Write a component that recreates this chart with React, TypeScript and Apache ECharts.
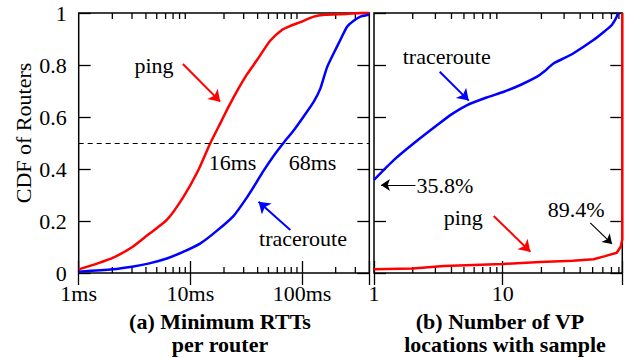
import React, { useEffect, useRef } from "react";
import * as echarts from "echarts";

// (a) Minimum RTT per router: [ms, CDF]
const rttPing: [number, number][] = [
  [1, 0.014], [1.5, 0.038], [2.04, 0.059], [3, 0.099], [4.2, 0.148], [6.15, 0.204],
  [8.67, 0.293], [11.8, 0.396], [15.1, 0.5], [19, 0.585], [22, 0.64], [27, 0.71],
  [32, 0.763], [39.5, 0.819], [52, 0.894], [66, 0.935], [80, 0.952], [96.6, 0.965],
  [127, 0.986], [160, 0.993], [252, 0.996], [330, 1.0], [400, 1.0],
];
const rttTrace: [number, number][] = [
  [1, 0.005], [2, 0.014], [3, 0.024], [4.2, 0.036], [6.15, 0.056], [8.5, 0.08],
  [12.3, 0.114], [17, 0.16], [24.4, 0.22], [32, 0.29], [39.5, 0.352], [45, 0.392],
  [56, 0.452], [68.4, 0.501], [84, 0.548], [103, 0.601], [127, 0.658], [146, 0.71], [167, 0.79],
  [192, 0.845], [220, 0.896], [253, 0.947], [290, 0.97], [333, 0.986], [383, 0.992], [400, 0.993],
];
// (b) Number of VP locations with sample: [count, CDF]
const vpTrace: [number, number][] = [
  [1, 0.358], [1.43, 0.435], [2.04, 0.499], [3.1, 0.569], [4, 0.61], [5.3, 0.646],
  [7.5, 0.675], [10.2, 0.697], [14, 0.725], [18.5, 0.755], [21, 0.775], [24.8, 0.806],
  [30, 0.826], [35.5, 0.845], [50.7, 0.896], [62, 0.93], [70.5, 0.954], [76, 0.98], [79, 1.0],
];
const vpPing: [number, number][] = [
  [1, 0.014], [2, 0.017], [3.5, 0.027], [10, 0.035], [19.5, 0.042], [35, 0.047],
  [50.7, 0.053], [62.5, 0.065], [77, 0.078], [82.6, 0.101], [85, 0.13], [85, 1.0],
];

const rttMinorTicks = [2, 3, 4, 5, 6, 7, 8, 9, 20, 30, 40, 50, 60, 70, 80, 90, 200, 300];
const vpMinorTicks = [2, 3, 4, 5, 6, 7, 8, 9, 20, 30, 40, 50, 60, 70, 80];
const rttTickLabels: Record<number, string> = { 1: "1ms", 10: "10ms", 100: "100ms" };
const vpTickLabels: Record<number, string> = { 1: "1", 10: "10" };
const rttRange = [1, 400];
const vpRange = [1, 85];
const medianLevel = 0.5;

// annotation arrows in data coordinates: [from, to]
const rttPingArrow = [[8.57, 0.804], [18.5, 0.659]];
const rttTraceArrow = [[78.5, 0.165], [40.8, 0.274]];
const vpTraceArrow = [[3.24, 0.774], [5.45, 0.663]];
const vpPingArrow = [[8.51, 0.219], [16.4, 0.082]];
const vpFirstArrow = [[2.1, 0.338], [1.133, 0.338]];
const vpKneeArrow = [[47.9, 0.193], [70.7, 0.112]];

const FONT = "Liberation Serif, Times New Roman, serif";
const RED = "#ff0000";
const BLUE = "#0000ff";

function logLabel(labels: Record<number, string>) {
  return (v: number) => {
    const k = Math.round(v);
    if (Math.abs(v - k) < 1e-6 * Math.max(1, k) && labels[k] !== undefined) return labels[k];
    return "";
  };
}

function arrow(a: number[][], color: string, width: number, size: number) {
  return [
    { coord: a[0], symbol: "none", lineStyle: { color, width, type: "solid" } },
    { coord: a[1], symbol: "arrow", symbolSize: size, lineStyle: { color, width, type: "solid" } },
  ];
}

function minorTickSeries(ticks: number[], xi: number, yi: number) {
  return {
    type: "custom",
    xAxisIndex: xi,
    yAxisIndex: yi,
    silent: true,
    data: ticks.map((v) => [v, 0]),
    renderItem: (_p: any, api: any) => {
      const v = api.value(0);
      const b = api.coord([v, 0]);
      const t = api.coord([v, 1]);
      return {
        type: "group",
        children: [
          { type: "line", shape: { x1: b[0], y1: b[1], x2: b[0], y2: b[1] - 6 }, style: { stroke: "#000", lineWidth: 1.3 } },
          { type: "line", shape: { x1: t[0], y1: t[1], x2: t[0], y2: t[1] + 6 }, style: { stroke: "#000", lineWidth: 1.3 } },
        ],
      };
    },
  };
}

function txt(text: string, x: number, y: number, align = "center", bold = false, rotation = 0) {
  return {
    type: "text",
    x,
    y,
    rotation,
    style: {
      text,
      fontFamily: FONT,
      fontSize: 22,
      fontWeight: bold ? "bold" : "normal",
      fill: "#000",
      align,
      verticalAlign: "middle",
    },
  };
}

export default function App() {
  const ref = useRef<HTMLDivElement>(null);
  useEffect(() => {
    if (!ref.current) return;
    const chart = echarts.init(ref.current, null, { renderer: "svg" });
    const tick = { show: true, inside: true, length: 12, lineStyle: { color: "#000", width: 1.3 } };
    const lbl = { fontFamily: FONT, fontSize: 22, color: "#000" };
    const xBase = (gi: number, range: number[], pos: string, labels: Record<number, string> | null) => ({
      type: "log",
      logBase: 10,
      gridIndex: gi,
      min: range[0],
      max: range[1],
      position: pos,
      axisLine: { show: false },
      axisTick: tick,
      splitLine: { show: false },
      axisLabel: labels
        ? { ...lbl, margin: 9, formatter: logLabel(labels), showMinLabel: true, showMaxLabel: true, hideOverlap: false }
        : { show: false },
    });
    const yBase = (gi: number, pos: string, showLabel: boolean) => ({
      type: "value",
      gridIndex: gi,
      min: 0,
      max: 1,
      interval: 0.2,
      position: pos,
      axisLine: { show: false },
      axisTick: tick,
      splitLine: { show: false },
      axisLabel: showLabel
        ? { ...lbl, margin: 12, formatter: (v: number) => String(+v.toFixed(1)) }
        : { show: false },
    });
    const lineSeries = (data: [number, number][], color: string, xi: number, yi: number, extra: any = {}) => ({
      type: "line",
      xAxisIndex: xi,
      yAxisIndex: yi,
      data,
      showSymbol: false,
      smooth: 0.2,
      clip: false,
      silent: true,
      lineStyle: { color, width: 2.5 },
      itemStyle: { color },
      ...extra,
    });
    const ml = (data: any[]) => ({
      silent: true,
      symbol: ["none", "arrow"],
      label: { show: false },
      emphasis: { disabled: true },
      animation: false,
      data,
    });
    chart.setOption({
      animation: false,
      backgroundColor: "#fff",
      textStyle: { fontFamily: FONT },
      grid: [
        { left: 78.7, top: 13, width: 290.6, height: 260, show: true, borderColor: "#000", borderWidth: 1.5, backgroundColor: "transparent" },
        { left: 374, top: 13, width: 248.3, height: 260, show: true, borderColor: "#000", borderWidth: 1.5, backgroundColor: "transparent" },
      ],
      xAxis: [
        xBase(0, rttRange, "bottom", rttTickLabels),
        xBase(0, rttRange, "top", null),
        xBase(1, vpRange, "bottom", vpTickLabels),
        xBase(1, vpRange, "top", null),
      ],
      yAxis: [yBase(0, "left", true), yBase(0, "right", false), yBase(1, "left", false), yBase(1, "right", false)],
      series: [
        minorTickSeries(rttMinorTicks, 0, 0),
        minorTickSeries(vpMinorTicks, 2, 2),
        {
          type: "line",
          xAxisIndex: 0,
          yAxisIndex: 0,
          data: [],
          silent: true,
          markLine: {
            silent: true,
            symbol: ["none", "none"],
            label: { show: false },
            emphasis: { disabled: true },
            animation: false,
            lineStyle: { color: "#000", width: 1, type: [5, 4] },
            data: [{ yAxis: medianLevel }],
          },
        },
        lineSeries(rttPing, RED, 0, 0, { markLine: ml([arrow(rttPingArrow, RED, 2, 11)]) }),
        lineSeries(rttTrace, BLUE, 0, 0, { markLine: ml([arrow(rttTraceArrow, BLUE, 2, 11)]) }),
        lineSeries(vpTrace, BLUE, 2, 2, { markLine: ml([arrow(vpTraceArrow, BLUE, 2, 11)]) }),
        lineSeries(vpPing, RED, 2, 2, {
          smooth: false,
          markLine: ml([
            arrow(vpPingArrow, RED, 2, 11),
            arrow(vpFirstArrow, "#000", 1.2, 9),
            arrow(vpKneeArrow, "#000", 1.2, 9),
          ]),
        }),
      ],
      graphic: [
        txt("CDF of Routers", 23, 133, "center", false, Math.PI / 2),
        txt("ping", 154, 65),
        txt("16ms", 232.5, 162.6),
        txt("68ms", 312.5, 162.6),
        txt("traceroute", 303, 238.6),
        txt("traceroute", 446.7, 56),
        txt("35.8%", 416.5, 185.3, "left"),
        txt("ping", 463.3, 217.6),
        txt("89.4%", 576.2, 209.3),
        txt("(a) Minimum RTTs", 220, 321.6, "center", true),
        txt("per router", 220, 344.3, "center", true),
        txt("(b) Number of VP", 500, 321.6, "center", true),
        txt("locations with sample", 505, 344.3, "center", true),
      ],
    });
    return () => chart.dispose();
  }, []);
  return <div ref={ref} style={{ position: "fixed", left: 0, top: 0, width: 627, height: 358, background: "#fff" }} />;
}
